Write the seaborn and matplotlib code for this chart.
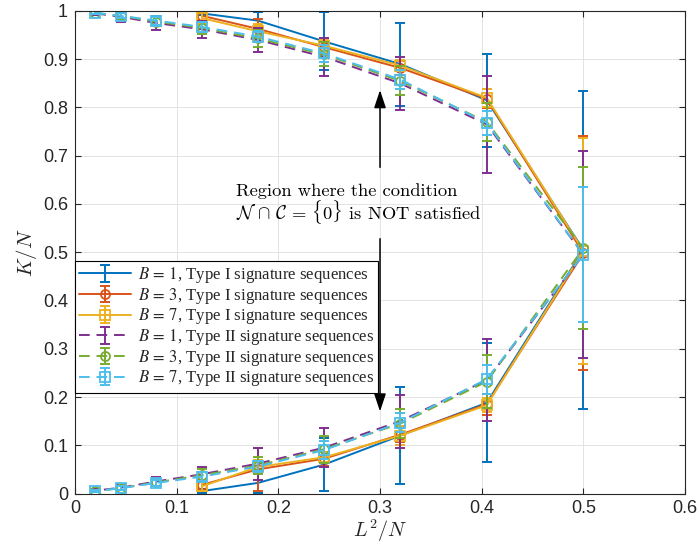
import numpy as np
import pandas as pd
import matplotlib
matplotlib.use("Agg")
import matplotlib.pyplot as plt
from matplotlib.font_manager import FontProperties
from matplotlib.legend_handler import HandlerTuple
import seaborn as sns

# ---------------- data ----------------
x_type1 = [0.125, 0.18, 0.245, 0.32, 0.405, 0.5]
x_type2 = [0.02, 0.045, 0.08, 0.125, 0.18, 0.245, 0.32, 0.405, 0.5]

# upper branch (ascending x, last point x=0.5), lower branch (ascending x, without 0.5)
b1_t1_upper = [0.995, 0.980, 0.937, 0.890, 0.815, 0.505]
b1_t1_upper_err = [0.004, 0.018, 0.060, 0.086, 0.096, 0.330]
b1_t1_lower = [0.005, 0.022, 0.060, 0.120, 0.188]
b1_t1_lower_err = [0.004, 0.020, 0.055, 0.100, 0.123]

b3_t1_upper = [0.990, 0.963, 0.925, 0.882, 0.818, 0.498]
b3_t1_upper_err = [0.010, 0.020, 0.015, 0.015, 0.020, 0.242]
b3_t1_lower = [0.018, 0.050, 0.072, 0.122, 0.185]
b3_t1_lower_err = [0.010, 0.045, 0.015, 0.015, 0.022]

b7_t1_upper = [0.985, 0.958, 0.928, 0.887, 0.820, 0.503]
b7_t1_upper_err = [0.012, 0.015, 0.012, 0.012, 0.018, 0.234]
b7_t1_lower = [0.015, 0.055, 0.075, 0.120, 0.183]
b7_t1_lower_err = [0.010, 0.015, 0.012, 0.020, 0.015]

b1_t2_upper = [0.995, 0.988, 0.975, 0.962, 0.940, 0.905, 0.850, 0.765, 0.495]
b1_t2_upper_err = [0.004, 0.010, 0.015, 0.018, 0.025, 0.040, 0.055, 0.100, 0.215]
b1_t2_lower = [0.006, 0.012, 0.025, 0.040, 0.062, 0.095, 0.150, 0.235]
b1_t2_lower_err = [0.003, 0.005, 0.010, 0.015, 0.033, 0.040, 0.055, 0.085]

b3_t2_upper = [0.996, 0.990, 0.978, 0.965, 0.943, 0.910, 0.855, 0.770, 0.508]
b3_t2_upper_err = [0.003, 0.006, 0.010, 0.012, 0.018, 0.025, 0.030, 0.040, 0.168]
b3_t2_lower = [0.005, 0.011, 0.023, 0.038, 0.058, 0.092, 0.145, 0.232]
b3_t2_lower_err = [0.002, 0.004, 0.008, 0.012, 0.018, 0.028, 0.030, 0.055]

b7_t2_upper = [0.996, 0.990, 0.980, 0.967, 0.947, 0.912, 0.858, 0.768, 0.495]
b7_t2_upper_err = [0.003, 0.005, 0.008, 0.010, 0.012, 0.018, 0.020, 0.025, 0.140]
b7_t2_lower = [0.005, 0.011, 0.022, 0.035, 0.056, 0.090, 0.147, 0.237]
b7_t2_lower_err = [0.002, 0.004, 0.006, 0.010, 0.012, 0.018, 0.020, 0.030]

labels = [r"$B\, =\, 1$, Type I signature sequences",
          r"$B\, =\, 3$, Type I signature sequences",
          r"$B\, =\, 7$, Type I signature sequences",
          r"$B\, =\, 1$, Type II signature sequences",
          r"$B\, =\, 3$, Type II signature sequences",
          r"$B\, =\, 7$, Type II signature sequences"]

x_ticks = [0, 0.1, 0.2, 0.3, 0.4, 0.5, 0.6]
x_tick_labels = ["0", "0.1", "0.2", "0.3", "0.4", "0.5", "0.6"]
y_ticks = [0, 0.1, 0.2, 0.3, 0.4, 0.5, 0.6, 0.7, 0.8, 0.9, 1.0]
y_tick_labels = ["0", "0.1", "0.2", "0.3", "0.4", "0.5", "0.6", "0.7", "0.8", "0.9", "1"]

# ---------------- styling ----------------
sns.set_theme(style="whitegrid")
plt.rcParams.update({
    "font.family": ["Liberation Sans", "DejaVu Sans"],
    "axes.edgecolor": "#262626",
    "axes.linewidth": 0.8,
    "grid.color": "#e3e3e3",
    "grid.linewidth": 0.7,
    "xtick.color": "#262626",
    "ytick.color": "#262626",
    "xtick.labelcolor": "#262626",
    "ytick.labelcolor": "#262626",
    "xtick.direction": "in",
    "ytick.direction": "in",
    "xtick.major.size": 4,
    "ytick.major.size": 4,
    "xtick.major.width": 0.8,
    "ytick.major.width": 0.8,
    "xtick.top": True,
    "ytick.right": True,
    "xtick.bottom": True,
    "ytick.left": True,
    "mathtext.fontset": "cm",
})

colors = ["#0072BD", "#D95319", "#EDB120", "#7E2F8E", "#77AC30", "#4DBEEE"]
markers = [None, "o", "s", None, "o", "s"]
dash = (0, (5.5, 3.5))
styles = ["-", "-", "-", dash, dash, dash]

series = [
    (x_type1, b1_t1_upper, b1_t1_upper_err, b1_t1_lower, b1_t1_lower_err),
    (x_type1, b3_t1_upper, b3_t1_upper_err, b3_t1_lower, b3_t1_lower_err),
    (x_type1, b7_t1_upper, b7_t1_upper_err, b7_t1_lower, b7_t1_lower_err),
    (x_type2, b1_t2_upper, b1_t2_upper_err, b1_t2_lower, b1_t2_lower_err),
    (x_type2, b3_t2_upper, b3_t2_upper_err, b3_t2_lower, b3_t2_lower_err),
    (x_type2, b7_t2_upper, b7_t2_upper_err, b7_t2_lower, b7_t2_lower_err),
]

fig = plt.figure(figsize=(6.99, 5.47), dpi=100)
ax = fig.add_axes([0.1073, 0.0978, 0.8727, 0.8821])

handles = []
for i, (xs, up, upe, lo, loe) in enumerate(series):
    # path: upper branch ascending, then lower branch descending
    px = list(xs) + list(xs[:-1])[::-1]
    py = list(up) + list(lo)[::-1]
    pe = list(upe) + list(loe)[::-1]
    df = pd.DataFrame({"x": px, "y": py, "e": pe})
    kw = dict(color=colors[i], linewidth=1.4, linestyle=styles[i])
    if markers[i] is not None:
        kw.update(marker=markers[i], markersize=6.5, markerfacecolor="none",
                  markeredgecolor=colors[i], markeredgewidth=1.3)
    sns.lineplot(data=df, x="x", y="y", sort=False, estimator=None,
                 ax=ax, legend=False, **kw)
    line = ax.lines[-1]
    eb = ax.errorbar(df["x"], df["y"], yerr=df["e"], fmt="none",
                     ecolor=colors[i], elinewidth=1.4, capsize=3.6,
                     capthick=1.4)
    handles.append((line, eb))

ax.set_xlim(0, 0.6)
ax.set_ylim(0, 1)
ax.set_xticks(x_ticks)
ax.set_xticklabels(x_tick_labels)
ax.set_yticks(y_ticks)
ax.set_yticklabels(y_tick_labels)
ax.tick_params(labelsize=13, pad=5)
for s in ax.spines.values():
    s.set_visible(True)
    s.set_color("#262626")
ax.grid(True)

ax.set_xlabel(r"$L^2/N$", fontsize=14.5, labelpad=0)
ax.set_ylabel(r"$K/N$", fontsize=15, labelpad=3)

# arrows and annotation
ax.annotate("", xy=(0.3, 0.836), xytext=(0.3, 0.676),
            arrowprops=dict(arrowstyle="-|>,head_length=0.9,head_width=0.3",
                            color="black", lw=1.1, shrinkA=0, shrinkB=0))
ax.annotate("", xy=(0.3, 0.170), xytext=(0.3, 0.528),
            arrowprops=dict(arrowstyle="-|>,head_length=0.9,head_width=0.3",
                            color="black", lw=1.1, shrinkA=0, shrinkB=0))
ax.text(0.158, 0.627, "Region where the condition", fontsize=13.3,
        family="cmr10", ha="left", va="center", color="black")
ax.text(0.158, 0.583,
        r"$\mathcal{N}\,\cap\,\mathcal{C}\,=\,\{\mathbf{0}\}$ is NOT satisfied",
        fontsize=13.3, family="cmr10", ha="left", va="center", color="black")

leg_font = FontProperties(family="Liberation Serif", size=12.1, math_fontfamily="stix")
leg = ax.legend(handles, labels, loc="upper left", bbox_to_anchor=(0.0, 0.482),
                borderaxespad=0, prop=leg_font, handlelength=3.1,
                handletextpad=0.4, labelspacing=0.04, borderpad=0.25,
                frameon=True, fancybox=False, framealpha=1, edgecolor="black",
                handler_map={tuple: HandlerTuple(ndivide=1, pad=0)})
leg.get_frame().set_linewidth(0.8)
leg.set_zorder(10)

fig.savefig("out.png", dpi=100)
